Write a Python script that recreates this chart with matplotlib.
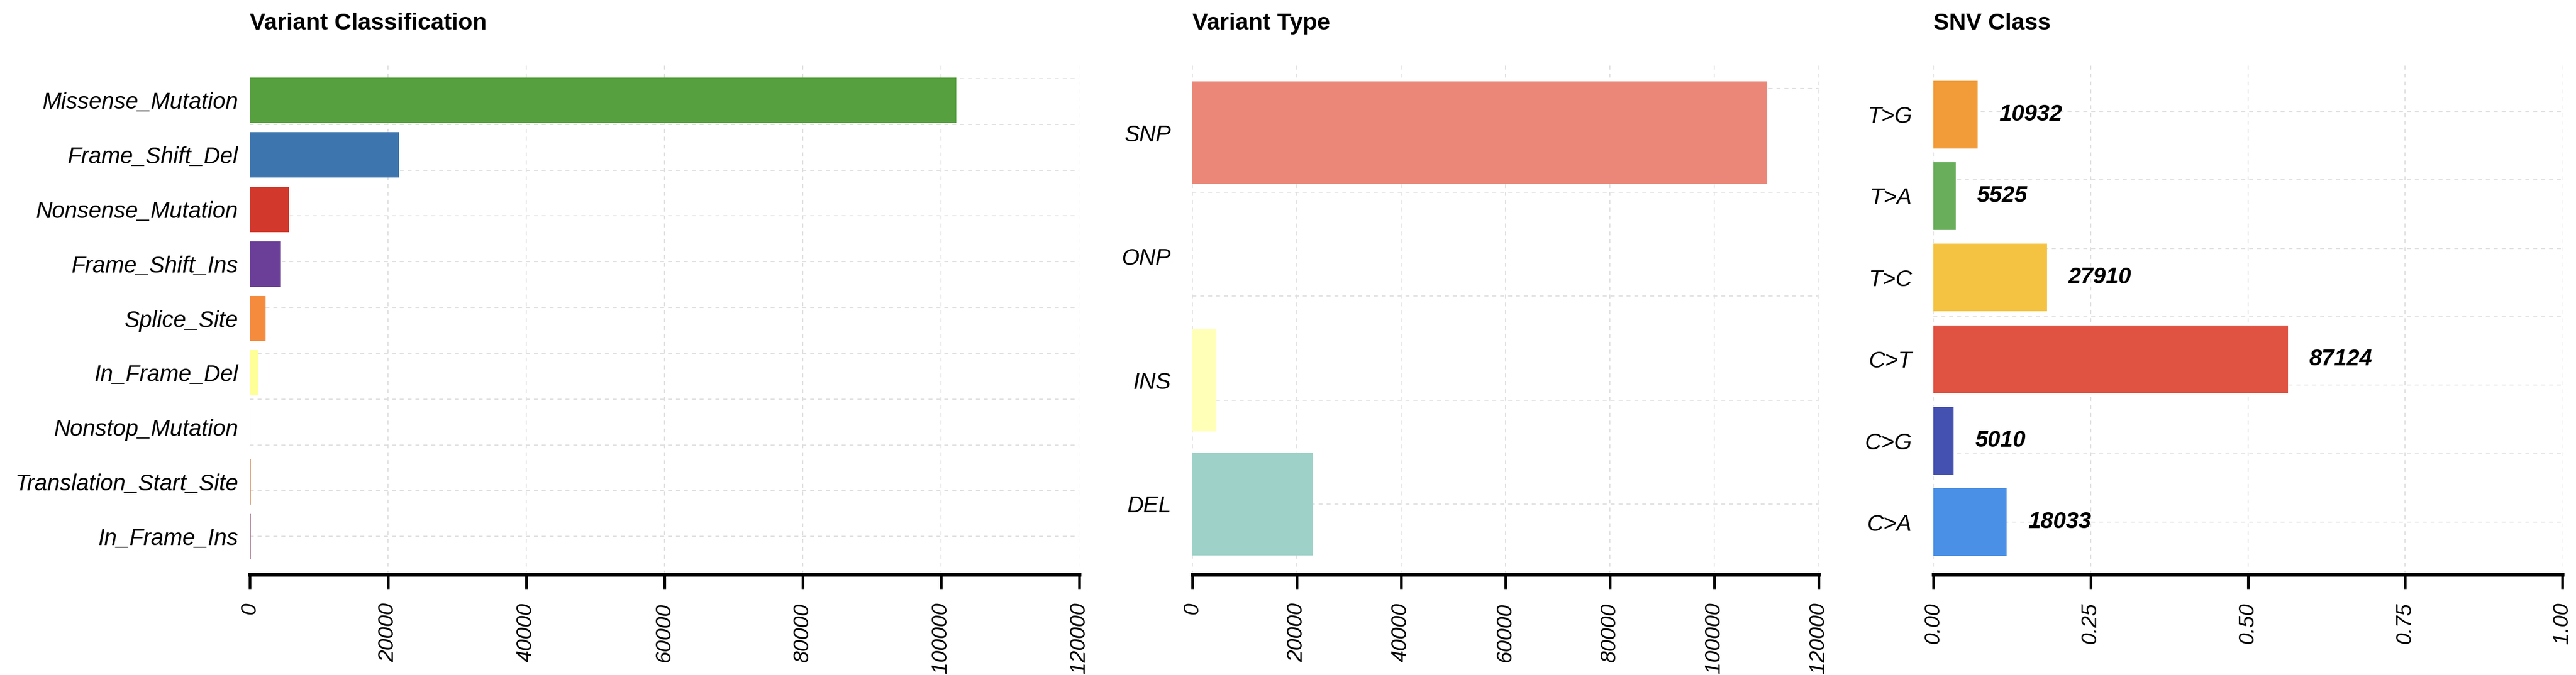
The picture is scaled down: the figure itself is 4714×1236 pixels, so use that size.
import numpy as np
import matplotlib
matplotlib.use("Agg")
import matplotlib.pyplot as plt

plt.rcParams['font.family'] = ['Liberation Sans', 'DejaVu Sans']

# Variant Classification
vc_names = ["Missense_Mutation", "Frame_Shift_Del", "Nonsense_Mutation", "Frame_Shift_Ins",
            "Splice_Site", "In_Frame_Del", "Nonstop_Mutation", "Translation_Start_Site", "In_Frame_Ins"]
vc_counts = [102200, 21600, 5690, 4500, 2290, 1190, 100, 150, 120]
vc_colors = ["#56a03f", "#3d75ae", "#d2382c", "#6b3f98", "#f58b3d", "#ffff99",
             "#a6cee3", "#d9996a", "#b07a8e"]

# Variant Type
vt_names = ["SNP", "ONP", "INS", "DEL"]
vt_counts = [110150, 0, 4600, 23040]
vt_colors = ["#ea8778", "#bebada", "#ffffb8", "#9ed2c8"]

# SNV Class
snv_names = ["T>G", "T>A", "T>C", "C>T", "C>G", "C>A"]
snv_counts = [10932, 5525, 27910, 87124, 5010, 18033]
snv_colors = ["#f19c38", "#68ae5b", "#f5c342", "#e05343", "#4451b0", "#4a90e6"]

W, H = 4714, 1236
fig = plt.figure(figsize=(W / 100, H / 100), dpi=100)

bottom = (H - 1052) / H
height = (1052 - 114) / H
panels = [
    (457, 1975, "Variant Classification", vc_names, vc_counts, vc_colors, 0.7, 15),
    (2182, 3328, "Variant Type", vt_names, vt_counts, vt_colors, 0.57, 28),
    (3538, 4689, "SNV Class", snv_names, snv_counts, snv_colors, 0.64, 28),
]

grid_kw = dict(color="#dedede", lw=1.3, ls=(0, (4, 4)), zorder=0)

for i, (x0, x1, title, names, counts, colors, pad, lpad) in enumerate(panels):
    ax = fig.add_axes([x0 / W, bottom, (x1 - x0) / W, height])
    n = len(names)
    pos = np.arange(n)
    vals = np.array(counts, dtype=float)
    if i == 2:
        vals = vals / vals.sum()
        ax.set_xlim(0, 1)
        ticks = [0, 0.25, 0.5, 0.75, 1.0]
        ax.set_xticks(ticks)
        ax.set_xticklabels(["%.2f" % t for t in ticks])
    else:
        ax.set_xlim(0, 120000)
        ticks = np.arange(0, 120001, 20000)
        ax.set_xticks(ticks)
        ax.set_xticklabels([str(t) for t in ticks])

    for t in ticks:
        ax.axvline(t, **grid_kw)
    for g in np.arange(n - 1, -pad, -0.84):
        ax.axhline(g, **grid_kw)

    ax.barh(pos, vals, height=0.83, color=colors, zorder=2)

    if i == 2:
        for p, v, c in zip(pos, vals, counts):
            ax.annotate(str(c), (v, p), xytext=(28, 0), textcoords="offset points",
                        ha="left", va="center", fontsize=30, fontweight="bold",
                        fontstyle="italic", zorder=3)

    ax.set_ylim(n - 1 + pad, -pad)
    ax.set_yticks(pos)
    ax.set_yticklabels(names, fontsize=30, fontstyle="italic")
    ax.tick_params(axis="y", length=0, pad=lpad)
    ax.tick_params(axis="x", length=19, width=3.5, pad=18, labelsize=28,
                   labelrotation=90)
    for lab in ax.get_xticklabels():
        lab.set_fontstyle("italic")
        lab.set_va("top")
        lab.set_ha("center")
    for s in ["top", "right", "left"]:
        ax.spines[s].set_visible(False)
    ax.spines["bottom"].set_linewidth(4.8)
    ax.spines["bottom"].set_zorder(4)
    ax.set_facecolor("white")

    fig.text(x0 / W, 1 - 54 / H, title, fontsize=31, fontweight="bold", va="baseline", ha="left")

fig.savefig("out.png", dpi=100, facecolor="white")
